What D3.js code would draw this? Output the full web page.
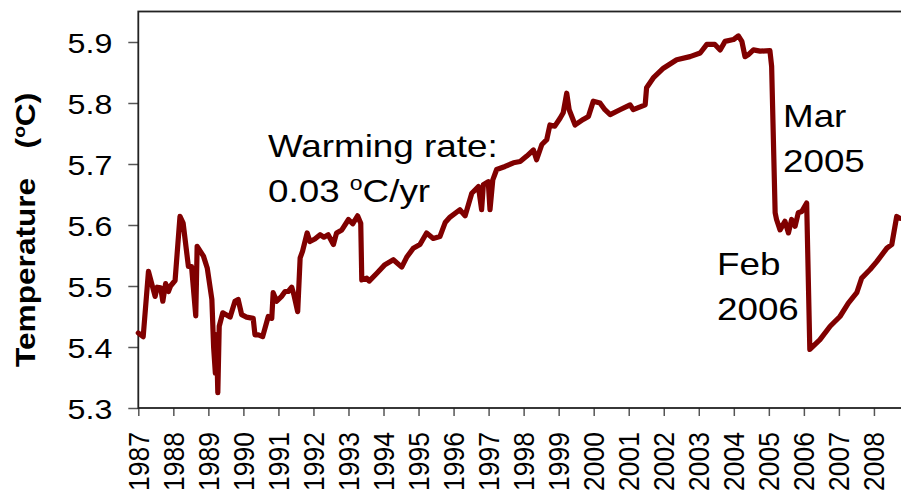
<!DOCTYPE html>
<html>
<head>
<meta charset="utf-8">
<script src="https://cdn.jsdelivr.net/npm/d3@7"></script>
<style>
  html, body { margin: 0; padding: 0; background: #fff; }
  svg { display: block; }
  text { font-family: "Liberation Sans", Arial, sans-serif; fill: #000; }
</style>
</head>
<body>
<svg id="chart" width="901" height="496"></svg>
<script>
// Decimal year of each reading
const years = [
  1987.00, 1987.14, 1987.29, 1987.48, 1987.54, 1987.64, 1987.70, 1987.78, 1987.86, 1987.92,
  1988.05, 1988.19, 1988.28, 1988.43, 1988.52, 1988.64, 1988.68, 1988.86, 1988.97, 1989.10,
  1989.15, 1989.20, 1989.23, 1989.27, 1989.31, 1989.41, 1989.62, 1989.76, 1989.85, 1989.95,
  1990.09, 1990.28, 1990.33, 1990.43, 1990.55, 1990.71, 1990.81, 1990.85, 1990.95, 1991.09,
  1991.19, 1991.28, 1991.38, 1991.44, 1991.55, 1991.62, 1991.69, 1991.82, 1991.90, 1992.04,
  1992.19, 1992.30, 1992.42, 1992.57, 1992.66, 1992.81, 1993.00, 1993.12, 1993.26, 1993.35,
  1993.38, 1993.52, 1993.59, 1993.81, 1994.04, 1994.28, 1994.52, 1994.66, 1994.85, 1995.04,
  1995.23, 1995.42, 1995.61, 1995.76, 1995.90, 1996.18, 1996.33, 1996.52, 1996.71, 1996.80,
  1996.85, 1996.99, 1997.04, 1997.12, 1997.23, 1997.47, 1997.71, 1997.90, 1998.09, 1998.28,
  1998.37, 1998.52, 1998.66, 1998.75, 1998.89, 1999.04, 1999.13, 1999.23, 1999.30, 1999.47,
  1999.70, 1999.85, 1999.99, 2000.18, 2000.32, 2000.47, 2000.75, 2001.04, 2001.13, 2001.47,
  2001.51, 2001.70, 2001.99, 2002.37, 2002.75, 2003.04, 2003.23, 2003.46, 2003.61, 2003.75,
  2003.99, 2004.13, 2004.23, 2004.32, 2004.41, 2004.56, 2004.75, 2005.03, 2005.08, 2005.18,
  2005.22, 2005.32, 2005.46, 2005.56, 2005.65, 2005.75, 2005.84, 2005.94, 2006.08, 2006.17,
  2006.46, 2006.75, 2007.03, 2007.27, 2007.51, 2007.65, 2007.89, 2008.08, 2008.37, 2008.51,
  2008.65, 2008.74
];

// Temperature (°C) at each reading
const temperature = [
  5.423, 5.417, 5.524, 5.483, 5.498, 5.497, 5.475, 5.504, 5.491, 5.500,
  5.509, 5.614, 5.603, 5.532, 5.532, 5.451, 5.565, 5.549, 5.529, 5.478,
  5.400, 5.357, 5.420, 5.325, 5.434, 5.456, 5.449, 5.475, 5.478, 5.453,
  5.449, 5.447, 5.420, 5.420, 5.417, 5.450, 5.447, 5.489, 5.475, 5.483,
  5.491, 5.491, 5.498, 5.486, 5.458, 5.546, 5.557, 5.587, 5.573, 5.577,
  5.584, 5.580, 5.584, 5.568, 5.587, 5.592, 5.609, 5.602, 5.615, 5.603,
  5.510, 5.513, 5.508, 5.521, 5.535, 5.543, 5.531, 5.547, 5.562, 5.568,
  5.587, 5.578, 5.581, 5.604, 5.613, 5.625, 5.615, 5.652, 5.663, 5.625,
  5.666, 5.671, 5.625, 5.674, 5.691, 5.696, 5.702, 5.704, 5.713, 5.723,
  5.707, 5.732, 5.740, 5.764, 5.762, 5.775, 5.784, 5.816, 5.789, 5.764,
  5.773, 5.778, 5.803, 5.800, 5.789, 5.781, 5.789, 5.797, 5.789, 5.797,
  5.825, 5.841, 5.857, 5.871, 5.876, 5.882, 5.896, 5.896, 5.887, 5.901,
  5.904, 5.910, 5.901, 5.876, 5.879, 5.887, 5.885, 5.886, 5.860, 5.620,
  5.609, 5.592, 5.606, 5.587, 5.609, 5.598, 5.620, 5.622, 5.636, 5.396,
  5.412, 5.434, 5.450, 5.472, 5.489, 5.513, 5.527, 5.540, 5.562, 5.568,
  5.614, 5.611
];

const yearTicks = d3.range(1987, 2009);
const tempTicks = [5.3, 5.4, 5.5, 5.6, 5.7, 5.8, 5.9];

const svg = d3.select("#chart");
const plotLeft = 138.3, plotRight = 903, plotTop = 11.5, plotBottom = 408;
const sx = 1.15; // horizontal glyph stretch

const x = d3.scaleLinear().domain([1987, 2008.83]).range([plotLeft, plotRight]);
const y = d3.scaleLinear().domain([5.3, 5.95]).range([plotBottom, plotTop]);

// y axis ticks and labels
const yAxis = svg.append("g")
  .attr("transform", `translate(${plotLeft},0)`)
  .call(d3.axisLeft(y).tickValues(tempTicks).tickSize(10).tickFormat(d3.format(".1f")));
yAxis.select(".domain").remove();
yAxis.selectAll(".tick line").attr("stroke", "#555").attr("stroke-width", 1.5);
yAxis.selectAll(".tick text")
  .attr("x", null).attr("dy", null)
  .attr("text-anchor", "end")
  .attr("dominant-baseline", "central")
  .attr("transform", "translate(-26,1) scale(1.15,1)")
  .style("font-size", "28px")
  .style("font-family", "'Liberation Sans', Arial, sans-serif");

// x axis ticks and rotated labels
const xAxis = svg.append("g")
  .attr("transform", `translate(0,${plotBottom})`)
  .call(d3.axisBottom(x).tickValues(yearTicks).tickSize(8).tickFormat(d3.format("d")));
xAxis.select(".domain").remove();
xAxis.selectAll(".tick line").attr("stroke", "#555").attr("stroke-width", 1.5);
xAxis.selectAll(".tick text")
  .attr("y", null).attr("dy", null)
  .attr("text-anchor", "end")
  .attr("dominant-baseline", "central")
  .attr("transform", "translate(0,24) scale(1.1,1) rotate(-90)")
  .style("font-size", "26.5px")
  .style("font-family", "'Liberation Sans', Arial, sans-serif");

// plot frame
svg.append("rect")
  .attr("x", plotLeft).attr("y", plotTop)
  .attr("width", plotRight - plotLeft).attr("height", plotBottom - plotTop)
  .attr("fill", "none").attr("stroke", "#222").attr("stroke-width", 1.8);

// temperature series
const series = years.map((yr, i) => [yr, temperature[i]]);
svg.append("path")
  .datum(series)
  .attr("fill", "none")
  .attr("stroke", "#800000")
  .attr("stroke-width", 5.2)
  .attr("stroke-linejoin", "round")
  .attr("stroke-linecap", "round")
  .attr("d", d3.line().x(d => x(d[0])).y(d => y(d[1])));

// y axis title
const title = svg.append("text")
  .attr("transform", "translate(35,367) scale(1,1.13) rotate(-90)")
  .attr("text-anchor", "start")
  .style("font-size", "28px")
  .style("font-weight", "bold");
title.append("tspan").text("Temperature");
title.append("tspan").attr("dx", 26).text("(");
title.append("tspan").attr("dy", -10).style("font-size", "17px").text("o");
title.append("tspan").attr("dy", 10).text("C)");

// annotations
function note(px, py, lines) {
  const g = svg.append("g").attr("transform", `translate(${px},${py}) scale(${sx},1)`);
  lines.forEach((ln, i) => {
    const t = g.append("text").attr("y", i * 45).style("font-size", "32px");
    ln.forEach(part => {
      const s = t.append("tspan").text(part.t);
      if (part.sup) s.attr("dy", -12).style("font-size", "20px");
      if (part.down) s.attr("dy", 12);
    });
  });
}
note(268, 157, [[{t: "Warming rate:"}], [{t: "0.03 "}, {t: "o", sup: true}, {t: "C/yr", down: true}]]);
note(783, 127, [[{t: "Mar"}], [{t: "2005"}]]);
note(717, 275, [[{t: "Feb"}], [{t: "2006"}]]);
</script>
</body>
</html>
